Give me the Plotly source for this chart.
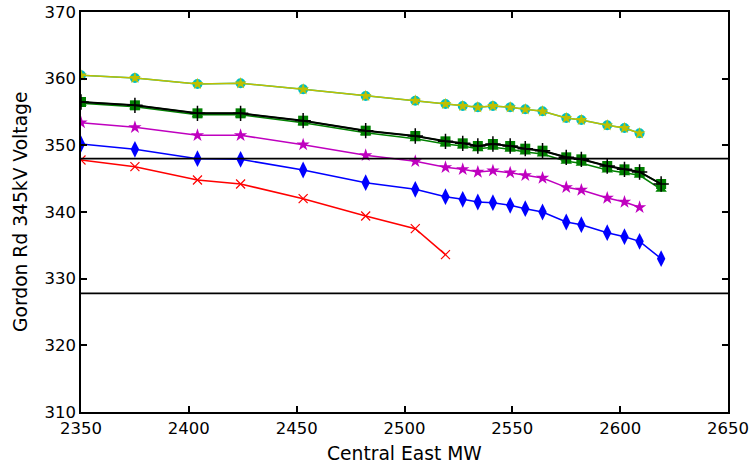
import plotly.graph_objects as go

# x positions (Central East MW)
mw_full = [2350, 2375, 2404, 2424, 2453, 2482, 2505, 2519, 2527, 2534, 2541, 2549,
           2556, 2564, 2575, 2582, 2594, 2602, 2609, 2619]
mw_top = mw_full[:19]
mw_red = mw_full[:7] + [2519]

cyan_circle = [360.5, 360.1, 359.2, 359.3, 358.4, 357.4, 356.7, 356.2, 355.9, 355.7,
               355.9, 355.7, 355.4, 355.1, 354.1, 353.8, 353.0, 352.6, 351.8]
yellow_star = cyan_circle[:]
green_square = [356.5, 356.0, 354.8, 354.8, 353.7, 352.2, 351.4, 350.6, 350.3, 349.9,
                350.2, 349.9, 349.5, 349.2, 348.2, 347.9, 346.9, 346.4, 346.0, 344.2]
black_plus = green_square[:]
green_tri = [356.3, 355.8, 354.6, 354.6, 353.4, 351.9, 351.0, 350.2, 349.9, 349.5,
             349.7, 349.4, 349.0, 348.7, 347.6, 347.3, 346.3, 345.9, 345.5, 343.4]
magenta_star = [353.4, 352.7, 351.5, 351.5, 350.1, 348.5, 347.6, 346.7, 346.4, 346.0,
                346.2, 345.9, 345.5, 345.1, 343.7, 343.3, 342.1, 341.5, 340.7]
blue_diamond = [350.2, 349.4, 348.0, 347.9, 346.3, 344.4, 343.4, 342.3, 341.9, 341.5,
                341.4, 341.0, 340.5, 340.0, 338.5, 338.1, 336.9, 336.3, 335.6, 333.0]
red_x = [347.8, 346.8, 344.8, 344.2, 342.0, 339.4, 337.5, 333.6]

limits = [348.0, 327.8]

fig = go.Figure()

def add(x, y, color, symbol, size, lw=1.5, mline=None, mcolor=None):
    fig.add_trace(go.Scatter(
        x=x, y=y, mode="lines+markers",
        line=dict(color=color, width=lw),
        marker=dict(symbol=symbol, size=size, color=mcolor or color,
                    line=dict(color=mcolor or color, width=mline if mline else 0)),
        showlegend=False))

add(mw_full, blue_diamond, "#0000ff", "diamond-tall", 12)
add(mw_red, red_x, "#ff0000", "x-thin-open", 9, mline=1.2)
add(mw_top, magenta_star, "#bf00bf", "star", 10)
add(mw_full, green_tri, "#008000", "triangle-up", 10)
add(mw_full, green_square, "#008000", "square", 10)
add(mw_full, black_plus, "#000000", "cross-thin-open", 11, lw=2, mline=1.5)
add(mw_top, cyan_circle, "#00bfbf", "circle", 10)
add(mw_top, yellow_star, "#bfbf00", "star", 9)

for v in limits:
    fig.add_shape(type="line", xref="paper", x0=0, x1=1, yref="y", y0=v, y1=v,
                  line=dict(color="black", width=1.6))

axis_common = dict(showline=True, linecolor="black", linewidth=1.5, mirror="allticks",
                   ticks="inside", ticklen=6, tickwidth=1.5, tickcolor="black",
                   showgrid=False, zeroline=False, automargin=False,
                   tickfont=dict(family="DejaVu Sans", size=16.5, color="black"))

title_font = dict(family="DejaVu Sans", size=18.7, color="black")

fig.update_layout(
    width=750, height=468,
    margin=dict(l=81, r=22, t=12, b=56),
    paper_bgcolor="white", plot_bgcolor="white",
    xaxis=dict(range=[2350, 2650], dtick=50, **axis_common),
    yaxis=dict(range=[310, 370], dtick=10, **axis_common),
    annotations=[
        dict(text="Central East MW", xref="paper", yref="paper", x=0.5, y=0,
             yshift=-41, xanchor="center", yanchor="middle", showarrow=False,
             font=title_font),
        dict(text="Gordon Rd 345kV Voltage", xref="paper", yref="paper", x=0, y=0.5,
             xshift=-61, xanchor="center", yanchor="middle", textangle=-90,
             showarrow=False, font=title_font),
    ],
)

fig.write_html(
    "out.html",
    config={"displayModeBar": False},
    post_script="document.body.style.margin='0';"
                "document.documentElement.style.overflow='hidden';",
)
